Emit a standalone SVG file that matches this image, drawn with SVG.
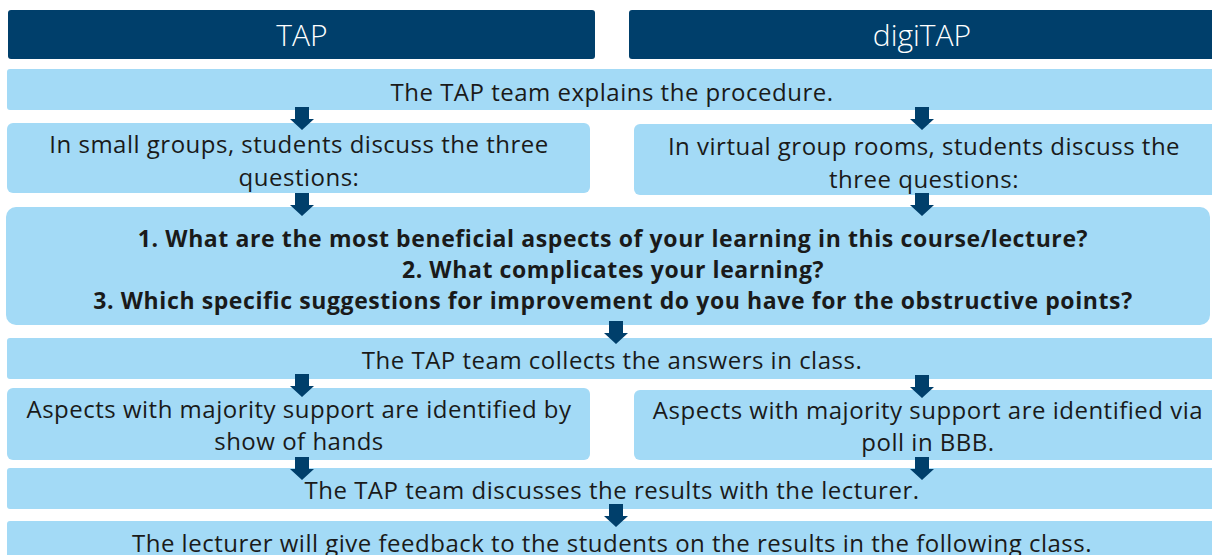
<svg xmlns="http://www.w3.org/2000/svg" width="1212" height="555" viewBox="0 0 1212 555">
<defs>
<style>
.hdr{fill:#003F6B}
.box{fill:#A3DAF6}
.ht{font-family:"Open Sans","Noto Sans",sans-serif;font-weight:300;font-size:30px;fill:#ffffff;text-anchor:middle}
.t{font-family:"Open Sans","Noto Sans",sans-serif;font-size:24px;letter-spacing:0.5px;fill:#1a1a1a;text-anchor:middle}
.b{font-family:"Open Sans","Noto Sans",sans-serif;font-size:23px;letter-spacing:0.6px;font-weight:700;fill:#1a1a1a;text-anchor:middle}
.arr{fill:#003F6B}
</style>
<path id="ar" d="M-7,0 H7 V12 H12 L0,23 L-12,12 H-7 Z"/>
</defs>
<rect width="1212" height="555" fill="#ffffff"/>
<g id="hdr-tap"><rect class="hdr" x="8" y="10" width="587" height="49" rx="3"/><text class="ht" x="302" y="46">TAP</text></g>
<g id="hdr-digitap"><rect class="hdr" x="629" y="10" width="590" height="49" rx="3"/><text class="ht" x="922" y="46">digiTAP</text></g>
<g id="n1"><rect class="box" x="7" y="69" width="1210" height="41" rx="3"/><text class="t" x="612" y="101">The TAP team explains the procedure.</text></g>
<g id="n2l"><rect class="box" x="7" y="123" width="583" height="70" rx="6"/><text class="t" x="299" y="153">In small groups, students discuss the three</text><text class="t" x="299" y="186">questions:</text></g>
<g id="n2r"><rect class="box" x="634" y="124" width="590" height="71" rx="6"/><text class="t" x="924" y="155">In virtual group rooms, students discuss the</text><text class="t" x="924" y="188">three questions:</text></g>
<g id="n3"><rect class="box" x="6" y="207" width="1204" height="118" rx="10"/><text class="b" x="613" y="247">1. What are the most beneficial aspects of your learning in this course/lecture?</text><text class="b" x="613" y="278">2. What complicates your learning?</text><text class="b" x="613" y="309">3. Which specific suggestions for improvement do you have for the obstructive points?</text></g>
<g id="n4"><rect class="box" x="7" y="338" width="1210" height="41" rx="3"/><text class="t" x="612" y="369">The TAP team collects the answers in class.</text></g>
<g id="n5l"><rect class="box" x="7" y="388" width="583" height="72" rx="6"/><text class="t" x="299" y="418">Aspects with majority support are identified by</text><text class="t" x="299" y="450">show of hands</text></g>
<g id="n5r"><rect class="box" x="634" y="390" width="590" height="70" rx="6"/><text class="t" x="928" y="419">Aspects with majority support are identified via</text><text class="t" x="928" y="451">poll in BBB.</text></g>
<g id="n6"><rect class="box" x="7" y="468" width="1210" height="41" rx="3"/><text class="t" x="612" y="499">The TAP team discusses the results with the lecturer.</text></g>
<g id="n7"><rect class="box" x="7" y="521" width="1210" height="45" rx="3"/><text class="t" x="612" y="552">The lecturer will give feedback to the students on the results in the following class.</text></g>
<g id="connectors" class="arr">
<use href="#ar" x="302" y="107"/>
<use href="#ar" x="922" y="107"/>
<use href="#ar" x="302" y="193"/>
<use href="#ar" x="922" y="193"/>
<use href="#ar" x="616" y="321"/>
<use href="#ar" x="302" y="374"/>
<use href="#ar" x="922" y="375"/>
<use href="#ar" x="302" y="457"/>
<use href="#ar" x="922" y="457"/>
<use href="#ar" x="616" y="504"/>
</g>
</svg>
